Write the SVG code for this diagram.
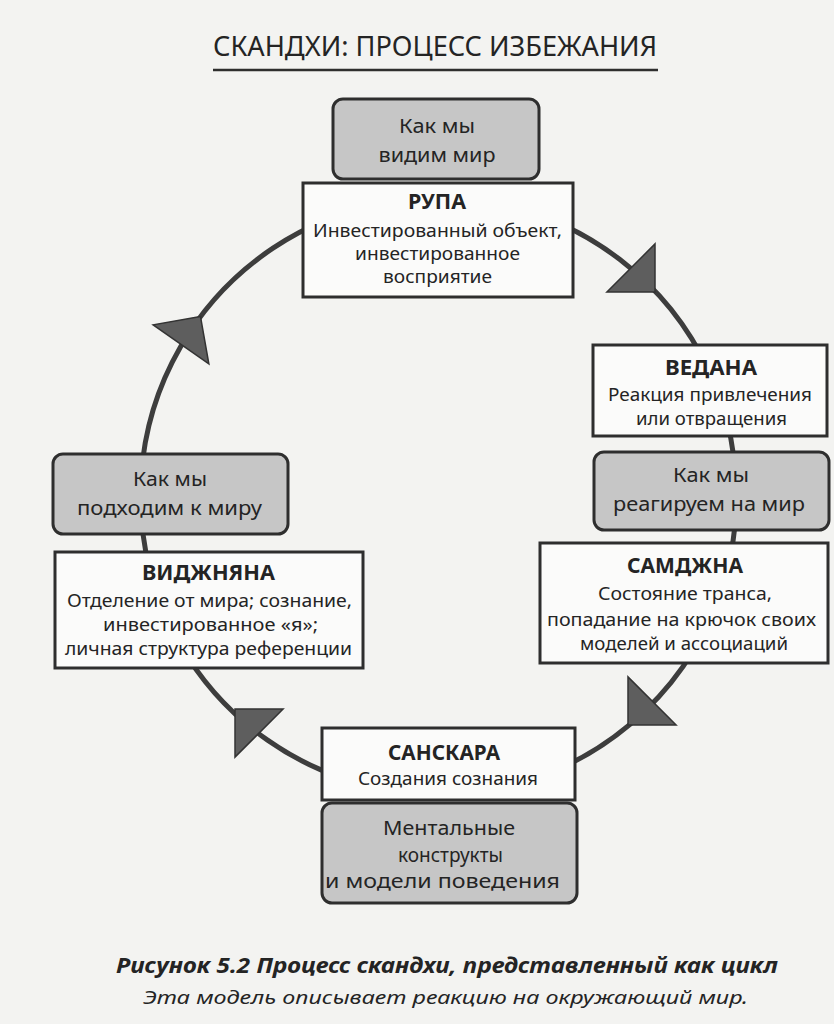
<svg xmlns="http://www.w3.org/2000/svg" width="834" height="1024" viewBox="0 0 834 1024">
<style>
  text { font-family: "Noto Sans", "Open Sans", "DejaVu Sans", sans-serif; fill: #242424; text-anchor: middle; }
  .title { font-size: 27px; font-weight: 400; }
  .head { font-size: 22px; font-weight: 700; }
  .body { font-size: 18.5px; }
  .gtxt { font-size: 19.5px; }
  .cap1 { font-size: 21px; font-weight: 700; font-style: italic; }
  .cap2 { font-size: 19px; font-style: italic; }
  .box { fill: #fbfbfa; stroke: #2e2e2e; stroke-width: 3; }
  .gbox { fill: #c6c6c6; stroke: #2e2e2e; stroke-width: 3; }
  .arc { fill: none; stroke: #3d3d3d; stroke-width: 5; }
  .head-arrow { fill: #5e5e5e; stroke: #333; stroke-width: 1.5; stroke-linejoin: miter; }
</style>
<defs>
  <polygon id="ah" class="head-arrow" points="0,0 -34,-34 -34,34"/>
</defs>
<rect x="0" y="0" width="834" height="1024" fill="#f3f3f1"/>

<g id="title">
  <text class="title" x="435" y="56" textLength="444" lengthAdjust="spacingAndGlyphs">СКАНДХИ: ПРОЦЕСС ИЗБЕЖАНИЯ</text>
  <line x1="213" y1="70" x2="658" y2="70" stroke="#2e2e2e" stroke-width="2.5"/>
</g>

<g id="connectors">
  <path id="c-rupa-vedana" class="arc" d="M490.2,202.5 A298,298 0 0 1 708.6,370.1"/>
  <path id="c-vedana-samjna" class="arc" d="M718.5,394.1 A298,298 0 0 1 726.3,573.1"/>
  <path id="c-samjna-sanskara" class="arc" d="M718.5,597.9 A298,298 0 0 1 490.2,789.5"/>
  <path id="c-sanskara-vijnana" class="arc" d="M386.8,789.5 A298,298 0 0 1 180.4,645"/>
  <path id="c-vijnana-rupa" class="arc" d="M158.5,597.9 A298,298 0 0 1 386.8,202.5"/>
  <use href="#ah" transform="translate(655,292) rotate(45)"/>
  <use href="#ah" transform="translate(628,725) rotate(135)"/>
  <use href="#ah" transform="translate(235,709) rotate(225)"/>
  <use href="#ah" transform="translate(200.5,316.5) rotate(-55)"/>
</g>

<g id="see-world">
  <rect class="gbox" x="333" y="99" width="206" height="80" rx="10"/>
  <text class="gtxt" x="437" y="133" textLength="76" lengthAdjust="spacingAndGlyphs">Как мы</text>
  <text class="gtxt" x="437" y="162" textLength="117" lengthAdjust="spacingAndGlyphs">видим мир</text>
</g>

<g id="rupa">
  <rect class="box" x="303" y="183" width="270" height="114"/>
  <text class="head" x="437" y="209" textLength="58" lengthAdjust="spacingAndGlyphs">РУПА</text>
  <text class="body" x="437.5" y="237" textLength="249" lengthAdjust="spacingAndGlyphs">Инвестированный объект,</text>
  <text class="body" x="437.5" y="260" textLength="165" lengthAdjust="spacingAndGlyphs">инвестированное</text>
  <text class="body" x="437.5" y="283" textLength="109" lengthAdjust="spacingAndGlyphs">восприятие</text>
</g>

<g id="vedana">
  <rect class="box" x="593" y="345" width="234" height="91"/>
  <text class="head" x="711" y="375" textLength="92" lengthAdjust="spacingAndGlyphs">ВЕДАНА</text>
  <text class="body" x="710" y="401" textLength="204" lengthAdjust="spacingAndGlyphs">Реакция привлечения</text>
  <text class="body" x="711.5" y="425" textLength="151" lengthAdjust="spacingAndGlyphs">или отвращения</text>
</g>

<g id="react-world">
  <rect class="gbox" x="594" y="452" width="235" height="78" rx="10"/>
  <text class="gtxt" x="711" y="482" textLength="76" lengthAdjust="spacingAndGlyphs">Как мы</text>
  <text class="gtxt" x="709" y="511" textLength="192" lengthAdjust="spacingAndGlyphs">реагируем на мир</text>
</g>

<g id="samjna">
  <rect class="box" x="540" y="543" width="288" height="120"/>
  <text class="head" x="685" y="573" textLength="116" lengthAdjust="spacingAndGlyphs">САМДЖНА</text>
  <text class="body" x="685" y="600" textLength="174" lengthAdjust="spacingAndGlyphs">Состояние транса,</text>
  <text class="body" x="681.5" y="626" textLength="269" lengthAdjust="spacingAndGlyphs">попадание на крючок своих</text>
  <text class="body" x="684" y="650" textLength="208" lengthAdjust="spacingAndGlyphs">моделей и ассоциаций</text>
</g>

<g id="approach-world">
  <rect class="gbox" x="53" y="454" width="235" height="80" rx="10"/>
  <text class="gtxt" x="170" y="486" textLength="74" lengthAdjust="spacingAndGlyphs">Как мы</text>
  <text class="gtxt" x="169.5" y="515" textLength="185" lengthAdjust="spacingAndGlyphs">подходим к миру</text>
</g>

<g id="vijnana">
  <rect class="box" x="55" y="552" width="308" height="116"/>
  <text class="head" x="208.5" y="580" textLength="133" lengthAdjust="spacingAndGlyphs">ВИДЖНЯНА</text>
  <text class="body" x="209.5" y="607" textLength="285" lengthAdjust="spacingAndGlyphs">Отделение от мира; сознание,</text>
  <text class="body" x="210.5" y="631" textLength="215" lengthAdjust="spacingAndGlyphs">инвестированное «я»;</text>
  <text class="body" x="208.5" y="655" textLength="287" lengthAdjust="spacingAndGlyphs">личная структура референции</text>
</g>

<g id="sanskara">
  <rect class="box" x="322" y="728" width="253" height="72"/>
  <text class="head" x="444" y="760" textLength="112" lengthAdjust="spacingAndGlyphs">САНСКАРА</text>
  <text class="body" x="448" y="785" textLength="180" lengthAdjust="spacingAndGlyphs">Создания сознания</text>
</g>

<g id="mental">
  <rect class="gbox" x="322" y="803" width="255" height="100" rx="10"/>
  <text class="gtxt" x="449" y="835" textLength="132" lengthAdjust="spacingAndGlyphs">Ментальные</text>
  <text class="gtxt" x="450.5" y="862" textLength="105" lengthAdjust="spacingAndGlyphs">конструкты</text>
  <text class="gtxt" x="442.5" y="888" textLength="235" lengthAdjust="spacingAndGlyphs">и модели поведения</text>
</g>

<g id="caption">
  <text class="cap1" x="447" y="973" textLength="662" lengthAdjust="spacingAndGlyphs">Рисунок 5.2 Процесс скандхи, представленный как цикл</text>
  <text class="cap2" x="445.5" y="1004" textLength="605" lengthAdjust="spacingAndGlyphs">Эта модель описывает реакцию на окружающий мир.</text>
</g>
</svg>
